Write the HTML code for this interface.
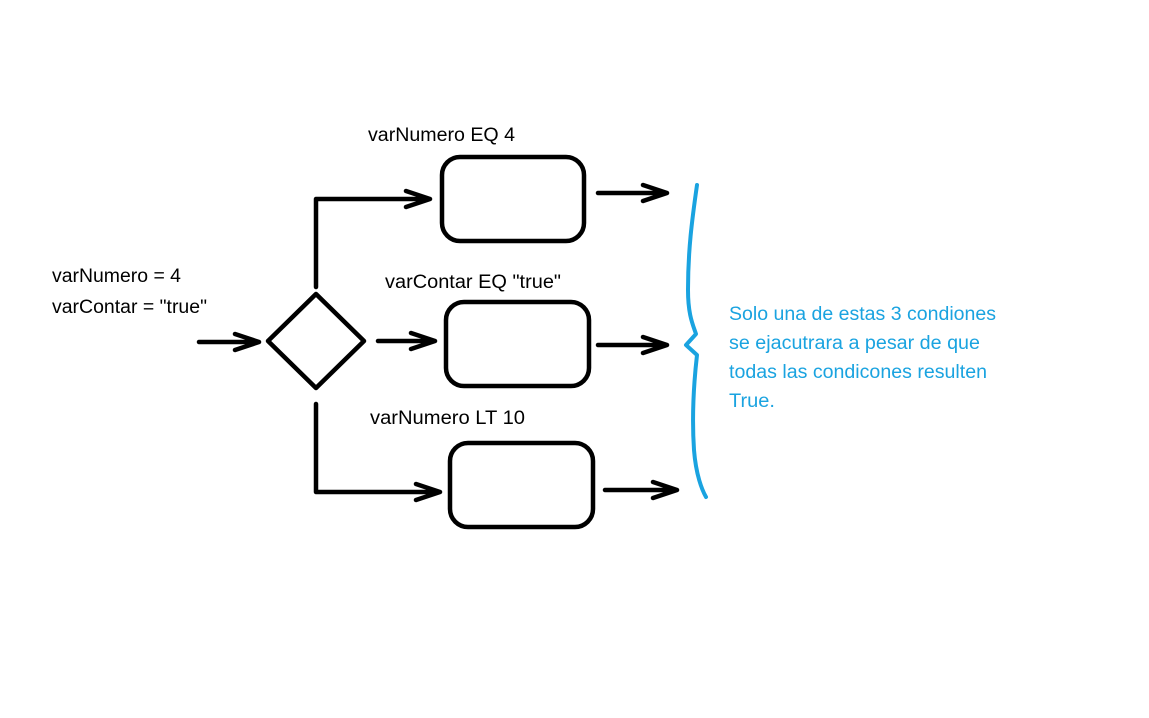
<!DOCTYPE html>
<html><head><meta charset="utf-8"><style>html,body{margin:0;padding:0;background:#fff;}svg{display:block}</style></head>
<body>
<svg width="1149" height="718" viewBox="0 0 1149 718" xmlns="http://www.w3.org/2000/svg">
<g fill="none" stroke="#000" stroke-width="4.5" stroke-linecap="round" stroke-linejoin="round">
<rect x="442" y="157" width="142" height="84" rx="18"/>
<rect x="446" y="302" width="143" height="84" rx="18"/>
<rect x="450" y="443" width="143" height="84" rx="18"/>
<polygon points="316,294 364,341 316,388 268,341"/>
<path d="M199,342 H259 M235,334 L259,342 L235,350"/>
<path d="M378,341 H435 M411,333 L435,341 L411,349"/>
<path d="M316,287 V199 H430 M406,191 L430,199 L406,207"/>
<path d="M316,404 V492 H440 M416,484 L440,492 L416,500"/>
<path d="M598,193 H667 M643,185 L667,193 L643,201"/>
<path d="M598,345 H667 M643,337 L667,345 L643,353"/>
<path d="M605,490 H677 M653,482 L677,490 L653,498"/>
</g>
<path d="M697,185 C692,220 688,250 688,290 C688,315 693,325 696,334 L686,345 L697,355 C693,390 692,420 694,450 C696,475 702,490 706,497" fill="none" stroke="#1aa3e0" stroke-width="4" stroke-linecap="round" stroke-linejoin="round"/>
<g font-family="Liberation Sans, Arial, sans-serif" font-size="19" fill="#000">
<text x="368" y="141" textLength="147" lengthAdjust="spacingAndGlyphs">varNumero EQ 4</text>
<text x="385" y="288" textLength="176" lengthAdjust="spacingAndGlyphs">varContar EQ  "true"</text>
<text x="370" y="424" textLength="155" lengthAdjust="spacingAndGlyphs">varNumero  LT 10</text>
<text x="52" y="282" textLength="129" lengthAdjust="spacingAndGlyphs">varNumero = 4</text>
<text x="52" y="313" textLength="155" lengthAdjust="spacingAndGlyphs">varContar = "true"</text>
</g>
<g font-family="Liberation Sans, Arial, sans-serif" font-size="19" fill="#1aa3e0">
<text x="729" y="320" textLength="267" lengthAdjust="spacingAndGlyphs">Solo una de estas 3 condiones</text>
<text x="729" y="349" textLength="251" lengthAdjust="spacingAndGlyphs">se ejacutrara a pesar de que</text>
<text x="729" y="378" textLength="258" lengthAdjust="spacingAndGlyphs">todas las condicones resulten</text>
<text x="729" y="407" textLength="46" lengthAdjust="spacingAndGlyphs">True.</text>
</g>
</svg>
</body></html>
